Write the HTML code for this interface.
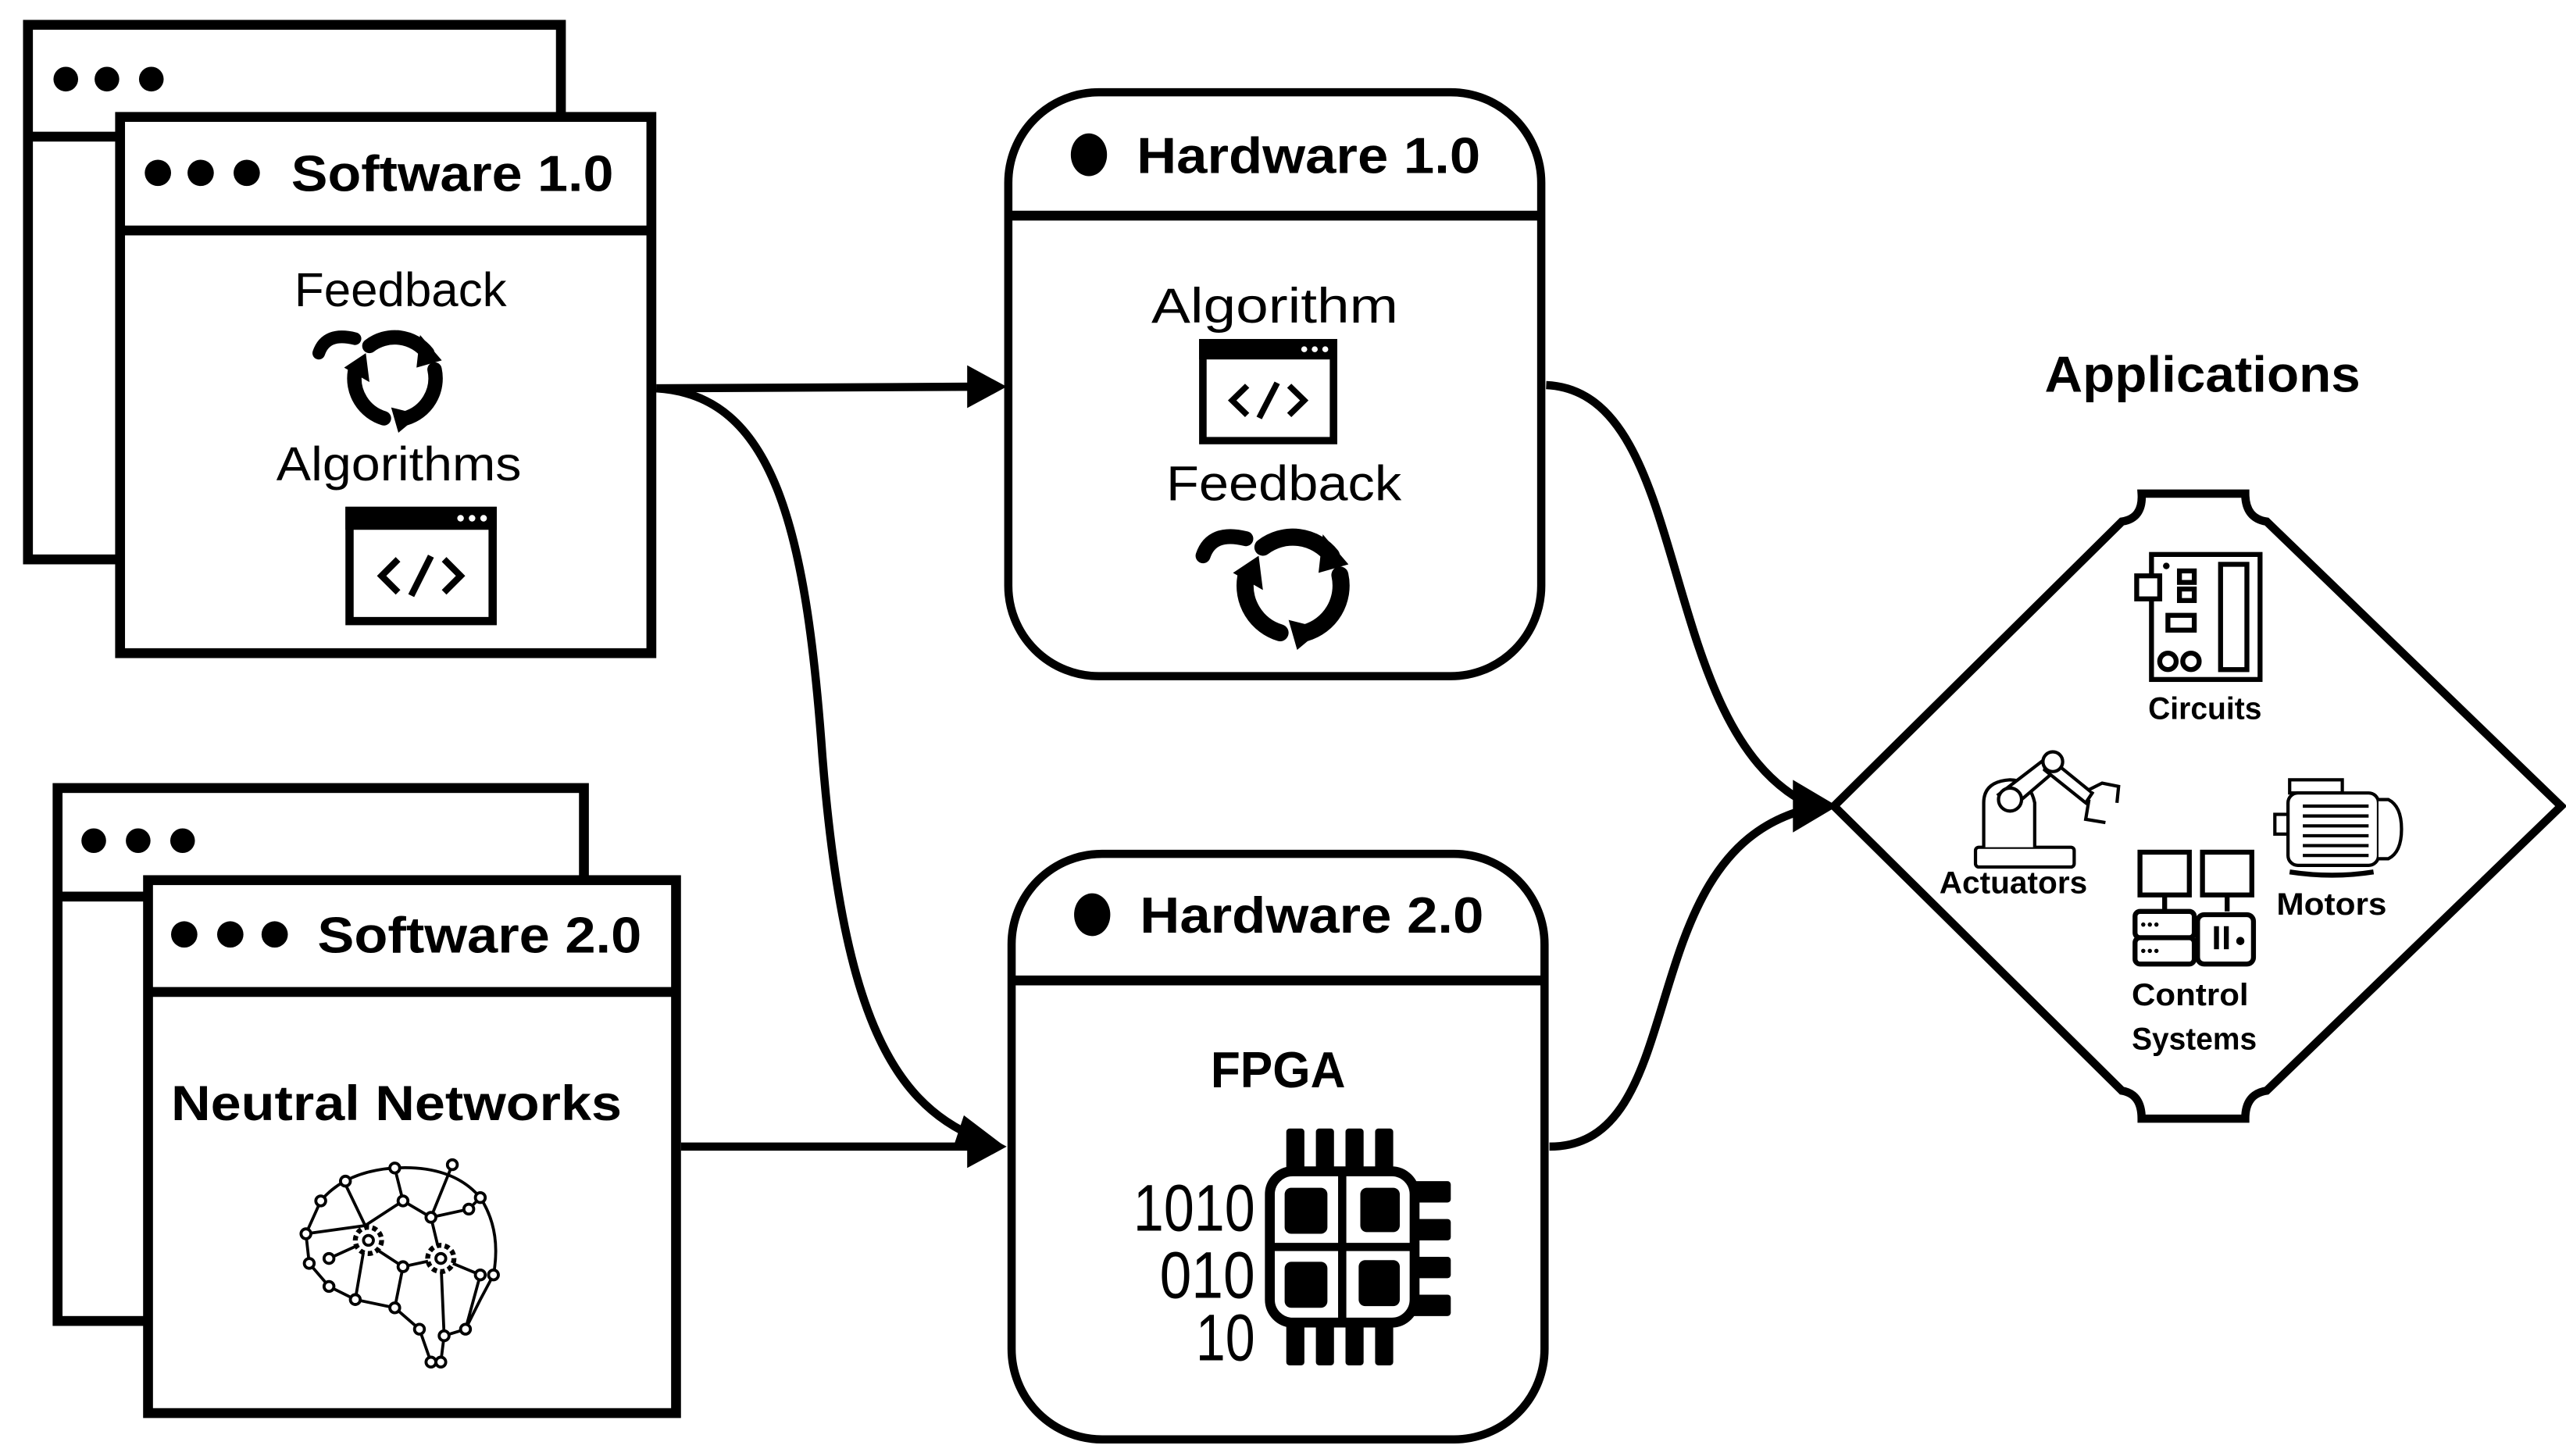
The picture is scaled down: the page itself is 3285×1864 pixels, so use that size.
<!DOCTYPE html>
<html><head><meta charset="utf-8"><style>
html,body{margin:0;padding:0;background:#fff;}
svg{display:block;}
text{font-family:"Liberation Sans",sans-serif;fill:#000;}
</style></head><body>
<svg width="3285" height="1864" viewBox="0 0 1560 885" xmlns="http://www.w3.org/2000/svg">
<defs>
<g id="fb">
  <path d="M-14,-18 A23,23 0 0 1 18,-14" fill="none" stroke="#000" stroke-width="8" stroke-linecap="round"/>
  <path d="M22,-5 A23,23 0 0 1 6,22" fill="none" stroke="#000" stroke-width="8" stroke-linecap="round"/>
  <path d="M-6,22 A23,23 0 0 1 -22,-4" fill="none" stroke="#000" stroke-width="8" stroke-linecap="round"/>
  <polygon points="14,-24 26,-10 12,-6" fill="#000"/>
  <polygon points="14,20 2,30 -2,16" fill="#000"/>
  <polygon points="-28,-6 -16,-14 -14,2" fill="#000"/>
  <path d="M-42,-14 Q-38,-26 -22,-22" fill="none" stroke="#000" stroke-width="7" stroke-linecap="round"/>
</g>
<g id="code">
  <rect x="2.5" y="2.5" width="87" height="67" fill="#fff" stroke="#000" stroke-width="5"/>
  <rect x="0" y="0" width="92" height="14" fill="#000"/>
  <circle cx="70" cy="7" r="2" fill="#fff"/><circle cx="77" cy="7" r="2" fill="#fff"/><circle cx="84" cy="7" r="2" fill="#fff"/>
  <path d="M32,32 L22,42 L32,52 M60,32 L70,42 L60,52 M52,30 L40,54" fill="none" stroke="#000" stroke-width="4"/>
</g>
</defs>

<!-- Software 1.0 -->
<rect x="17" y="15" width="324" height="325" fill="#fff" stroke="#000" stroke-width="6"/>
<line x1="17" y1="83" x2="341" y2="83" stroke="#000" stroke-width="6"/>
<circle cx="40" cy="48" r="7.5"/><circle cx="65" cy="48" r="7.5"/><circle cx="92" cy="48" r="7.5"/>
<rect x="73" y="71" width="323" height="326" fill="#fff" stroke="#000" stroke-width="6"/>
<line x1="73" y1="140" x2="396" y2="140" stroke="#000" stroke-width="6"/>
<circle cx="96" cy="105" r="8"/><circle cx="122" cy="105" r="8"/><circle cx="150" cy="105" r="8"/>
<text x="177" y="116" font-size="31" font-weight="bold" textLength="196" lengthAdjust="spacingAndGlyphs">Software 1.0</text>
<text x="179" y="186" font-size="29" textLength="129" lengthAdjust="spacingAndGlyphs">Feedback</text>
<use href="#fb" transform="translate(240,230) scale(1.1)"/>
<text x="168" y="292" font-size="29" textLength="149" lengthAdjust="spacingAndGlyphs">Algorithms</text>
<use href="#code" x="210" y="308"/>

<!-- Software 2.0 -->
<rect x="35" y="479" width="320" height="324" fill="#fff" stroke="#000" stroke-width="6"/>
<line x1="35" y1="545" x2="355" y2="545" stroke="#000" stroke-width="6"/>
<circle cx="57" cy="511" r="7.5"/><circle cx="84" cy="511" r="7.5"/><circle cx="111" cy="511" r="7.5"/>
<rect x="90" y="535" width="321" height="324" fill="#fff" stroke="#000" stroke-width="6"/>
<line x1="90" y1="603" x2="411" y2="603" stroke="#000" stroke-width="6"/>
<circle cx="112" cy="568" r="8"/><circle cx="140" cy="568" r="8"/><circle cx="167" cy="568" r="8"/>
<text x="193" y="579" font-size="31" font-weight="bold" textLength="197" lengthAdjust="spacingAndGlyphs">Software 2.0</text>
<text x="104" y="681" font-size="30" font-weight="bold" textLength="274" lengthAdjust="spacingAndGlyphs">Neutral Networks</text>
<!-- brain -->
<g fill="#fff" stroke="#000" stroke-width="1.8">
  <path d="M195,730 Q210,712 240,710 Q275,708 292,728 Q305,748 300,775 L292,790 L283,808 L270,812 L268,828 M195,730 L186,750 L188,768 L200,782 L216,790 L240,795 L255,808 L262,828 M210,720 L222,745 L245,730 L262,740 L268,765 L245,770 L222,755 L200,765 M240,710 L245,730 M262,740 L285,735 L292,728 M268,765 L292,775 L283,808 M245,770 L240,795 M222,755 L216,790 M275,708 L262,740 M268,765 L270,812 M186,750 L222,745"/>
  <circle cx="195" cy="730" r="3"/><circle cx="210" cy="718" r="3"/><circle cx="240" cy="710" r="3"/><circle cx="275" cy="708" r="3"/><circle cx="292" cy="728" r="3"/><circle cx="300" cy="775" r="3"/><circle cx="283" cy="808" r="3"/><circle cx="270" cy="812" r="3"/><circle cx="268" cy="828" r="3"/><circle cx="262" cy="828" r="3"/><circle cx="186" cy="750" r="3"/><circle cx="188" cy="768" r="3"/><circle cx="200" cy="782" r="3"/><circle cx="216" cy="790" r="3"/><circle cx="240" cy="795" r="3"/><circle cx="255" cy="808" r="3"/><circle cx="245" cy="730" r="3"/><circle cx="262" cy="740" r="3"/><circle cx="245" cy="770" r="3"/><circle cx="200" cy="765" r="3"/><circle cx="285" cy="735" r="3"/><circle cx="292" cy="775" r="3"/>
  <circle cx="224" cy="754" r="8" stroke-width="3" stroke-dasharray="3 2"/><circle cx="224" cy="754" r="3"/>
  <circle cx="268" cy="765" r="8" stroke-width="3" stroke-dasharray="3 2"/><circle cx="268" cy="765" r="3"/>
</g>

<!-- Hardware 1.0 -->
<rect x="613" y="56" width="324" height="355" rx="55" fill="#fff" stroke="#000" stroke-width="5"/>
<line x1="613" y1="131" x2="937" y2="131" stroke="#000" stroke-width="6"/>
<ellipse cx="662" cy="94" rx="11" ry="13"/>
<text x="691" y="105" font-size="31" font-weight="bold" textLength="209" lengthAdjust="spacingAndGlyphs">Hardware 1.0</text>
<text x="700" y="196" font-size="30" textLength="150" lengthAdjust="spacingAndGlyphs">Algorithm</text>
<use href="#code" transform="translate(729,206) scale(0.913,0.889)"/>
<text x="709" y="304" font-size="30" textLength="143" lengthAdjust="spacingAndGlyphs">Feedback</text>
<use href="#fb" transform="translate(786,356) scale(1.3)"/>

<!-- Hardware 2.0 -->
<rect x="615" y="519" width="324" height="356" rx="55" fill="#fff" stroke="#000" stroke-width="5"/>
<line x1="615" y1="596" x2="939" y2="596" stroke="#000" stroke-width="6"/>
<ellipse cx="664" cy="556" rx="11" ry="13"/>
<text x="693" y="567" font-size="31" font-weight="bold" textLength="209" lengthAdjust="spacingAndGlyphs">Hardware 2.0</text>
<text x="736" y="661" font-size="31" font-weight="bold" textLength="82" lengthAdjust="spacingAndGlyphs">FPGA</text>
<!-- chip -->
<g>
  <rect x="782" y="686" width="11" height="30" rx="2"/><rect x="800" y="686" width="11" height="30" rx="2"/><rect x="818" y="686" width="11" height="30" rx="2"/><rect x="836" y="686" width="11" height="30" rx="2"/>
  <rect x="782" y="800" width="11" height="30" rx="2"/><rect x="800" y="800" width="11" height="30" rx="2"/><rect x="818" y="800" width="11" height="30" rx="2"/><rect x="836" y="800" width="11" height="30" rx="2"/>
  <rect x="855" y="718" width="27" height="13" rx="2"/><rect x="855" y="741" width="27" height="13" rx="2"/><rect x="855" y="764" width="27" height="13" rx="2"/><rect x="855" y="787" width="27" height="13" rx="2"/>
  <rect x="772" y="712" width="88" height="92" rx="14" fill="#fff" stroke="#000" stroke-width="6"/>
  <line x1="816" y1="712" x2="816" y2="804" stroke="#000" stroke-width="5"/>
  <line x1="772" y1="758" x2="860" y2="758" stroke="#000" stroke-width="5"/>
  <rect x="781" y="722" width="26" height="28" rx="4"/><rect x="827" y="722" width="24" height="27" rx="4"/>
  <rect x="781" y="767" width="26" height="28" rx="4"/><rect x="826" y="766" width="25" height="28" rx="4"/>
</g>
<text x="689" y="748" font-size="40" textLength="74" lengthAdjust="spacingAndGlyphs">1010</text>
<text x="705" y="789" font-size="40" textLength="58" lengthAdjust="spacingAndGlyphs">010</text>
<text x="727" y="827" font-size="40" textLength="36" lengthAdjust="spacingAndGlyphs">10</text>

<!-- connectors -->
<g fill="none" stroke="#000" stroke-width="5">
  <line x1="399" y1="236" x2="592" y2="235"/>
  <path d="M399,236 C470,240 490,320 500,460 C512,610 540,670 595,692"/>
  <line x1="414" y1="697" x2="594" y2="697"/>
  <path d="M940,234 C1030,238 1005,440 1098,488"/>
  <path d="M942,697 C1030,697 990,520 1098,492"/>
</g>
<polygon points="612,235 588,222 588,248"/>
<polygon points="612,697 588,684 588,710"/>
<polygon points="611,697 586,678 580,696"/>
<polygon points="1117,490 1090,474 1090,506"/>

<!-- Applications -->
<text x="1243" y="238" font-size="31" font-weight="bold" textLength="192" lengthAdjust="spacingAndGlyphs">Applications</text>
<path d="M1115,490 L1290,317 Q1303,315 1302,300 L1365,300 Q1365,315 1378,317 L1557,490 L1378,663 Q1365,665 1365,680 L1302,680 Q1302,665 1290,663 Z" fill="#fff" stroke="#000" stroke-width="5"/>
<!-- circuit -->
<g fill="none" stroke="#000" stroke-width="3">
  <rect x="1308" y="337" width="66" height="76"/>
  <rect x="1350" y="343" width="16" height="64"/>
  <rect x="1299" y="350" width="14" height="14" fill="#fff"/>
  <rect x="1325" y="347" width="9" height="7"/><rect x="1325" y="358" width="9" height="7"/>
  <rect x="1318" y="374" width="16" height="9"/>
  <circle cx="1318" cy="402" r="5"/><circle cx="1332" cy="402" r="5"/>
</g>
<circle cx="1317" cy="344" r="2"/>
<text x="1306" y="437" font-size="19" font-weight="bold" textLength="69" lengthAdjust="spacingAndGlyphs">Circuits</text>
<!-- robot arm -->
<g fill="#fff" stroke="#000" stroke-width="2">
  <rect x="1201" y="515" width="60" height="12" rx="2"/>
  <path d="M1206,515 L1206,488 Q1206,475 1222,474 Q1234,474 1237,488 L1237,515"/>
  <path d="M1215,483 L1245,460 L1250,468 L1222,492 Z"/>
  <path d="M1245,460 L1272,482 L1268,488 L1243,468 Z"/>
  <circle cx="1222" cy="486" r="7"/><circle cx="1248" cy="463" r="6"/>
  <path d="M1270,480 L1278,476 L1288,478 L1287,488 M1270,486 L1268,498 L1280,500"/>
</g>
<text x="1179" y="543" font-size="19" font-weight="bold" textLength="90" lengthAdjust="spacingAndGlyphs">Actuators</text>
<!-- motor -->
<g fill="#fff" stroke="#000" stroke-width="2">
  <rect x="1392" y="474" width="32" height="8"/>
  <rect x="1383" y="495" width="8" height="12"/>
  <rect x="1391" y="482" width="55" height="44" rx="6"/>
  <path d="M1446,486 L1452,486 Q1460,490 1460,504 Q1460,518 1452,522 L1446,522"/>
  <path d="M1392,530 Q1418,534 1443,530" stroke-width="3"/>
  <path d="M1400,490 H1440 M1400,496 H1440 M1400,502 H1440 M1400,508 H1440 M1400,514 H1440 M1400,520 H1440"/>
</g>
<text x="1384" y="556" font-size="19" font-weight="bold" textLength="67" lengthAdjust="spacingAndGlyphs">Motors</text>
<!-- control systems -->
<g fill="#fff" stroke="#000" stroke-width="3">
  <rect x="1301" y="518" width="30" height="26"/><rect x="1339" y="518" width="30" height="26"/>
  <line x1="1316" y1="544" x2="1316" y2="554"/><line x1="1354" y1="544" x2="1354" y2="554"/>
  <rect x="1298" y="554" width="36" height="16" rx="3"/><rect x="1298" y="570" width="36" height="16" rx="3"/>
  <rect x="1336" y="556" width="34" height="30" rx="4"/>
</g>
<rect x="1346" y="563" width="3" height="14"/><rect x="1352" y="563" width="3" height="14"/><circle cx="1362" cy="572" r="2.5"/>
<circle cx="1303" cy="562" r="1.3"/><circle cx="1307" cy="562" r="1.3"/><circle cx="1311" cy="562" r="1.3"/>
<circle cx="1303" cy="578" r="1.3"/><circle cx="1307" cy="578" r="1.3"/><circle cx="1311" cy="578" r="1.3"/>
<text x="1296" y="611" font-size="19" font-weight="bold" textLength="71" lengthAdjust="spacingAndGlyphs">Control</text>
<text x="1296" y="638" font-size="19" font-weight="bold" textLength="76" lengthAdjust="spacingAndGlyphs">Systems</text>
</svg>
</body></html>
